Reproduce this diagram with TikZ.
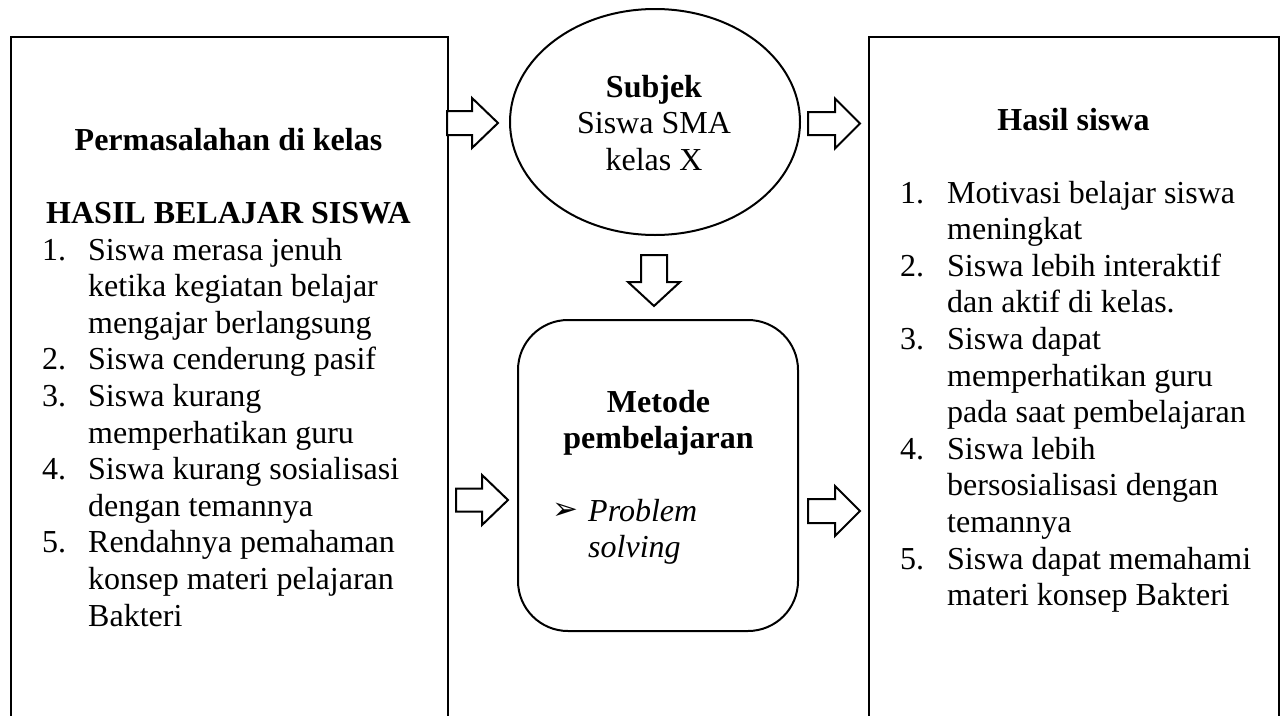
\documentclass[tikz,border=0pt]{standalone}
\usepackage{fontspec}
\setmainfont{Liberation Serif}
\newfontfamily\dejavu{DejaVu Sans}
\usetikzlibrary{shapes.geometric}
\newcommand\rblk[5]{%
  \draw[blk] (#1,#4-#5) -- (#2,#4-#5) -- (#2,#4-25) -- (#3,#4) -- (#2,#4+25) -- (#2,#4+#5) -- (#1,#4+#5) -- cycle;}
\begin{document}
\begin{tikzpicture}[x=1pt,y=-1pt,
  panel/.style={draw, line width=2pt, inner sep=0pt, anchor=north west, rectangle},
  big/.style={font=\fontsize{32}{36.6}\selectfont},
  txt/.style={big, inner sep=0pt, anchor=base west},
  ctr/.style={big, inner sep=0pt, anchor=base},
  blk/.style={draw, line width=2pt, fill=white, line join=miter}]
\clip (0,0) rectangle (1285,715);
\fill[white] (0,0) rectangle (1285,715);
% panels
\node[panel, minimum width=437pt, minimum height=740pt] (left) at (10,36) {};
\node[panel, minimum width=410pt, minimum height=740pt] (right) at (868,36) {};
\node[draw, line width=2pt, ellipse, inner sep=0pt, minimum width=290pt, minimum height=226pt] (subj) at (655,122) {};
\node[draw, line width=2pt, rectangle, rounded corners=50pt, inner sep=0pt, minimum width=280pt, minimum height=311pt] (metode) at (658,475.5) {};
% left panel text
\node[ctr] (lh1) at (228.5,150) {\bfseries Permasalahan di kelas};
\node[ctr] (lh2) at (228.5,223) {\bfseries HASIL BELAJAR SISWA};
\node[txt] (llist) at (42,260) {\begin{tabular}[t]{@{}p{46pt}@{}l@{}}
1. & Siswa merasa jenuh\\
   & ketika kegiatan belajar\\
   & mengajar berlangsung\\
2. & Siswa cenderung pasif\\
3. & Siswa kurang\\
   & memperhatikan guru\\
4. & Siswa kurang sosialisasi\\
   & dengan temannya\\
5. & Rendahnya pemahaman\\
   & konsep materi pelajaran\\
   & Bakteri
\end{tabular}};
% right panel text
\node[ctr] (rh) at (1073.5,130) {\bfseries Hasil siswa};
\node[txt] (rlist) at (900,203) {\begin{tabular}[t]{@{}p{47pt}@{}l@{}}
1. & Motivasi belajar siswa\\
   & meningkat\\
2. & Siswa lebih interaktif\\
   & dan aktif di kelas.\\
3. & Siswa dapat\\
   & memperhatikan guru\\
   & pada saat pembelajaran\\
4. & Siswa lebih\\
   & bersosialisasi dengan\\
   & temannya\\
5. & Siswa dapat memahami\\
   & materi konsep Bakteri
\end{tabular}};
% ellipse text
\node[ctr] (subjtxt) at (654,97) {\begin{tabular}[t]{@{}c@{}}
\textbf{Subjek}\\ Siswa SMA\\ kelas X\end{tabular}};
% rounded box text
\node[ctr] (mtxt) at (658.5,412) {\begin{tabular}[t]{@{}c@{}}
\textbf{Metode}\\ \textbf{pembelajaran}\end{tabular}};
\node[inner sep=0pt, anchor=base west, font=\dejavu\fontsize{31}{36}\selectfont] (bul) at (552,519) {➢};
\node[txt] (ps) at (588,521) {\begin{tabular}[t]{@{}l@{}}
\textit{Problem}\\ \textit{solving}\end{tabular}};
% block arrows
\rblk{447}{472}{498}{123}{12}
\rblk{808}{835}{860}{123.5}{11.5}
\rblk{456}{482}{508}{500}{11.5}
\rblk{808}{835}{860}{511}{12}
\draw[blk] (641,255) -- (667,255) -- (667,282) -- (680,282) -- (654,306) -- (628,282) -- (641,282) -- cycle;
\end{tikzpicture}
\end{document}
